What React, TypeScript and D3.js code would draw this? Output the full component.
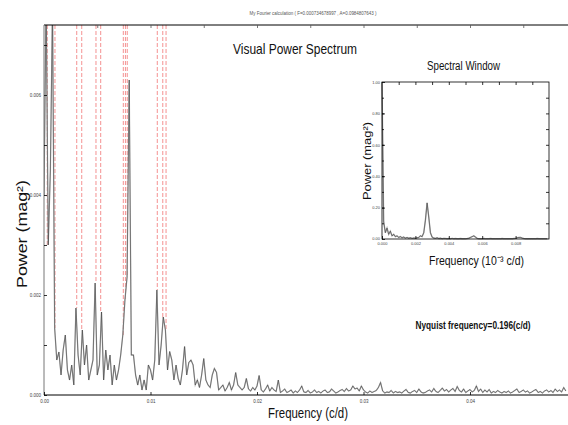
import React, { useRef, useEffect } from "react";
import * as d3 from "d3";

const W = 568;
const H = 425;

// main spectrum: one value every 0.0002 c/d starting at 0, power in 1e-4 mag^2
const stepMain = 0.0002;
const powerE4 = [
  40, 80, 30, 45, 78, 13.4, 7, 8.6, 4, 9,
  12, 5, 3, 6, 2, 17.4, 8, 4, 13, 6,
  10, 3, 5, 7, 22.4, 4, 6, 16.6, 3, 9,
  5, 8, 2, 6, 3, 5, 8, 12, 19, 23.6,
  63, 8, 8, 4, 2, 4, 1, 3, 1, 6,
  5, 3, 7, 21, 6, 10, 15.6, 13, 5, 8.7,
  7, 3, 6, 3.3, 2, 5, 9.7, 4, 6.5, 7,
  6, 2, 3, 1.5, 4, 7.3, 3, 2, 1.5, 4,
  5.3, 4.5, 1, 1.5, 2, 0.8, 1.5, 2.5, 1, 2,
  4.5, 2, 1.5, 1, 1.5, 3.3, 1.2, 0.8, 1.5, 1,
  1.8, 3.9, 1, 0.6, 1.2, 2, 0.8, 1.5, 1, 0.7,
  3, 0.5, 0.8, 1.2, 0.5, 0.7, 1.0, 0.4, 0.8, 0.5,
  1.0, 1.8, 0.6, 0.5, 0.9, 0.4, 0.6, 1.0, 0.5, 0.7,
  0.4, 0.8, 1.0, 0.5, 0.6, 1.2, 0.8, 0.4, 0.6, 0.9,
  1.1, 0.7, 1.3, 0.8, 1.0, 1.8, 1.2, 1.4, 0.8, 1.8,
  1.0, 0.6, 0.4, 0.8, 0.5, 0.7, 0.9, 1.5, 2.5, 0.8,
  0.4, 0.6, 0.5, 0.9, 0.4, 0.7, 0.5, 0.6, 0.4, 0.8,
  1.1, 0.5, 0.4, 0.7, 0.9, 0.5, 1.2, 0.6, 0.4, 0.5,
  0.8, 1.0, 0.6, 1.3, 0.7, 0.5, 0.9, 1.4, 0.8, 1.1,
  0.6, 1.0, 1.3, 0.7, 1.7, 0.9, 0.6, 1.2, 0.5, 0.8,
  1.1, 0.6, 0.9, 1.8, 0.7, 1.2, 0.5, 1.0, 0.6, 1.1,
  0.4, 0.7, 0.5, 0.9, 0.6, 0.4, 0.7, 0.5, 0.8, 0.4,
  0.6, 0.9, 1.2, 0.5, 0.7, 1.0, 0.6, 0.8, 0.4, 0.6,
  0.9, 1.1, 0.5, 0.7, 0.4, 0.8, 1.0, 0.6, 0.9, 0.5,
  1.2, 0.7, 1.0, 0.6, 1.5, 0.8,
];

// frequencies of the red dashed marker lines (c/d)
const markerFreqs = [
  0.00031, 0.00103, 0.00307, 0.00354, 0.00488, 0.00532,
  0.00745, 0.00765, 0.00782, 0.01064, 0.01115, 0.01146,
];

const xTicksMain = [0, 0.01, 0.02, 0.03, 0.04];
const yTicksMain = [0, 0.002, 0.004, 0.006];

// spectral window: one value every 0.0001, normalised power
const stepWin = 0.0001;
const windowPower = [
  1.0, 0.11, 0.04, 0.07, 0.03, 0.05, 0.02, 0.03, 0.015, 0.02,
  0.01, 0.015, 0.008, 0.012, 0.006, 0.01, 0.005, 0.008, 0.004, 0.006,
  0.005, 0.008, 0.01, 0.02, 0.015, 0.04, 0.12, 0.23, 0.14, 0.04,
  0.012, 0.006, 0.004, 0.008, 0.003, 0.005, 0.002, 0.004, 0.003, 0.002,
  0.003, 0.002, 0.004, 0.002, 0.003, 0.002, 0.002, 0.003, 0.002, 0.002,
  0.002, 0.003, 0.005, 0.01, 0.015, 0.02, 0.012, 0.004, 0.002, 0.002,
  0.002, 0.003, 0.002, 0.002, 0.002, 0.003, 0.002, 0.002, 0.002, 0.002,
  0.002, 0.002, 0.003, 0.002, 0.002, 0.002, 0.002, 0.002, 0.002, 0.003,
  0.004, 0.008, 0.01, 0.01, 0.006, 0.003, 0.002, 0.002, 0.002, 0.002,
  0.002, 0.002, 0.002, 0.003, 0.002, 0.002, 0.002, 0.002, 0.002, 0.002,
];
const xTicksWin = [0, 0.002, 0.004, 0.006, 0.008];
const yTicksWin = [0, 0.2, 0.4, 0.6, 0.8, 1.0];

const narrow = "'Liberation Sans Narrow', 'Arial Narrow', 'Liberation Sans', Arial, sans-serif";
const sans = "'Liberation Sans', Arial, sans-serif";

const App = () => {
  const ref = useRef<SVGSVGElement>(null);

  useEffect(() => {
    const svg = d3.select(ref.current);
    svg.selectAll("*").remove();

    // main plot
    const m = { left: 44, top: 25, bottom: 395 };
    const x = d3.scaleLinear().domain([0, 0.05]).range([m.left, 576.5]);
    const y = d3.scaleLinear().domain([0, 0.0074]).range([m.bottom, m.top]);

    svg.append("defs").append("clipPath").attr("id", "clipMain")
      .append("rect").attr("x", m.left).attr("y", m.top)
      .attr("width", W - m.left).attr("height", m.bottom - m.top);

    // marker lines, each runs from the top down to the spectrum
    const gm = svg.append("g").attr("clip-path", "url(#clipMain)");
    gm.selectAll("line.mk")
      .data(markerFreqs)
      .enter()
      .append("line")
      .attr("class", "mk")
      .attr("x1", (d) => x(d))
      .attr("x2", (d) => x(d))
      .attr("y1", m.top)
      .attr("y2", (d) => y(powerE4[Math.round(d / stepMain)] * 1e-4))
      .attr("stroke", "#ee5a5a")
      .attr("stroke-opacity", 0.6)
      .attr("stroke-width", 1.1)
      .attr("stroke-dasharray", "4,2");

    const line = d3
      .line<number>()
      .x((d, i) => x(i * stepMain))
      .y((d) => y(d * 1e-4));

    gm.append("path").datum(powerE4).attr("d", line)
      .attr("fill", "none").attr("stroke", "#b0b0b0").attr("stroke-width", 1.3);
    gm.append("path").datum(powerE4).attr("d", line)
      .attr("fill", "none").attr("stroke", "#222").attr("stroke-width", 0.5)
      .attr("stroke-opacity", 0.85);

    // frame
    svg.append("line").attr("x1", m.left).attr("x2", W).attr("y1", m.top).attr("y2", m.top)
      .attr("stroke", "#000").attr("stroke-width", 1);
    svg.append("line").attr("x1", m.left).attr("x2", W).attr("y1", m.bottom).attr("y2", m.bottom)
      .attr("stroke", "#000").attr("stroke-width", 1);
    svg.append("line").attr("x1", m.left).attr("x2", m.left).attr("y1", m.top).attr("y2", m.bottom)
      .attr("stroke", "#777").attr("stroke-width", 1);

    const tickStyle = (g: any, fs: number) => {
      g.select(".domain").remove();
      g.selectAll("line").attr("stroke", "#000").attr("stroke-width", 0.8);
      g.selectAll("text").attr("font-size", fs).attr("fill", "#444").attr("font-family", sans);
    };

    // y axis
    const gy = svg.append("g").attr("transform", `translate(${m.left},0)`)
      .call(d3.axisLeft(y).tickValues(yTicksMain).tickFormat(d3.format(".3f")).tickSizeInner(-3).tickSizeOuter(0).tickPadding(3));
    tickStyle(gy, 4.5);
    const gyMinor = svg.append("g").attr("transform", `translate(${m.left},0)`)
      .call(d3.axisLeft(y).tickValues(d3.range(0.001, 0.0074, 0.002)).tickFormat(() => "").tickSizeInner(-3).tickSizeOuter(0));
    tickStyle(gyMinor, 4.5);

    // x axis
    const gx = svg.append("g").attr("transform", `translate(0,${m.bottom})`)
      .call(d3.axisBottom(x).tickValues(xTicksMain).tickFormat(d3.format(".2f")).tickSizeInner(-3).tickSizeOuter(0).tickPadding(5));
    tickStyle(gx, 4.5);
    const gxTop = svg.append("g").attr("transform", `translate(0,${m.top})`)
      .call(d3.axisTop(x).tickValues(d3.range(0.005, 0.05, 0.005)).tickFormat(() => "").tickSizeInner(-3).tickSizeOuter(0));
    tickStyle(gxTop, 4.5);
    gxTop.selectAll("line").attr("stroke", "#555");

    // texts
    svg.append("text").attr("x", 313).attr("y", 15).attr("text-anchor", "middle")
      .attr("font-size", 5).attr("font-family", sans).attr("fill", "#555")
      .attr("textLength", 127).attr("lengthAdjust", "spacingAndGlyphs")
      .text("My Fourier calculation ( F=0.000734678997 , A=0.0984807643 )");

    svg.append("text").attr("x", 295).attr("y", 54).attr("text-anchor", "middle")
      .attr("font-size", 14.5).attr("font-family", narrow).attr("fill", "#111")
      .attr("textLength", 124).attr("lengthAdjust", "spacingAndGlyphs")
      .text("Visual Power Spectrum");

    svg.append("text").attr("x", 308).attr("y", 418).attr("text-anchor", "middle")
      .attr("font-size", 15).attr("font-family", narrow).attr("fill", "#111")
      .attr("textLength", 80).attr("lengthAdjust", "spacingAndGlyphs")
      .text("Frequency (c/d)");

    svg.append("text").attr("transform", "translate(27,234) rotate(-90)")
      .attr("text-anchor", "middle").attr("font-size", 14).attr("font-family", sans)
      .attr("fill", "#111").attr("textLength", 108).attr("lengthAdjust", "spacingAndGlyphs")
      .text("Power (mag²)");

    svg.append("text").attr("x", 473).attr("y", 329).attr("text-anchor", "middle")
      .attr("font-size", 11).attr("font-weight", "bold").attr("font-family", narrow).attr("fill", "#111")
      .attr("textLength", 115).attr("lengthAdjust", "spacingAndGlyphs")
      .text("Nyquist frequency=0.196(c/d)");

    // inset: spectral window
    const ins = { left: 382, right: 549, top: 82, bottom: 239 };
    const xw = d3.scaleLinear().domain([0, 0.01]).range([ins.left, ins.right]);
    const yw = d3.scaleLinear().domain([0, 1]).range([ins.bottom, ins.top]);

    const wline = d3
      .line<number>()
      .x((d, i) => xw(i * stepWin))
      .y((d) => yw(d));
    svg.append("path").datum(windowPower).attr("d", wline)
      .attr("fill", "none").attr("stroke", "#a8a8a8").attr("stroke-width", 1.4);
    svg.append("path").datum(windowPower).attr("d", wline)
      .attr("fill", "none").attr("stroke", "#222").attr("stroke-width", 0.5).attr("stroke-opacity", 0.85);

    svg.append("rect").attr("x", ins.left).attr("y", ins.top)
      .attr("width", ins.right - ins.left).attr("height", ins.bottom - ins.top)
      .attr("fill", "none").attr("stroke", "#000").attr("stroke-width", 0.8);

    const wyAll = d3.range(0.1, 1.0, 0.1);
    const wxAll = d3.range(0.001, 0.01, 0.001);
    const gwy = svg.append("g").attr("transform", `translate(${ins.left},0)`)
      .call(d3.axisLeft(yw).tickValues(yTicksWin).tickFormat(d3.format(".2f")).tickSizeInner(-3).tickSizeOuter(0).tickPadding(2));
    tickStyle(gwy, 4);
    gwy.selectAll(".tick").filter((d: any) => d === 0).select("text").attr("dy", "0");
    const gwyr = svg.append("g").attr("transform", `translate(${ins.right},0)`)
      .call(d3.axisRight(yw).tickValues(wyAll).tickFormat(() => "").tickSizeInner(-3).tickSizeOuter(0));
    tickStyle(gwyr, 4);
    const gwyl = svg.append("g").attr("transform", `translate(${ins.left},0)`)
      .call(d3.axisLeft(yw).tickValues(wyAll).tickFormat(() => "").tickSizeInner(-2).tickSizeOuter(0));
    tickStyle(gwyl, 4);
    const gwx = svg.append("g").attr("transform", `translate(0,${ins.bottom})`)
      .call(d3.axisBottom(xw).tickValues(xTicksWin).tickFormat(d3.format(".3f")).tickSizeInner(-3).tickSizeOuter(0).tickPadding(3));
    tickStyle(gwx, 4);
    const gwxt = svg.append("g").attr("transform", `translate(0,${ins.top})`)
      .call(d3.axisTop(xw).tickValues(wxAll).tickFormat(() => "").tickSizeInner(-3).tickSizeOuter(0));
    tickStyle(gwxt, 4);

    svg.append("text").attr("x", 463.5).attr("y", 70).attr("text-anchor", "middle")
      .attr("font-size", 12.5).attr("font-family", narrow).attr("fill", "#111")
      .attr("textLength", 73).attr("lengthAdjust", "spacingAndGlyphs")
      .text("Spectral Window");

    svg.append("text").attr("x", 476.5).attr("y", 265).attr("text-anchor", "middle")
      .attr("font-size", 13).attr("font-family", narrow).attr("fill", "#111")
      .attr("textLength", 95).attr("lengthAdjust", "spacingAndGlyphs")
      .text("Frequency (10⁻³ c/d)");

    svg.append("text").attr("transform", "translate(371,161) rotate(-90)")
      .attr("text-anchor", "middle").attr("font-size", 10.5).attr("font-family", sans)
      .attr("fill", "#111").attr("textLength", 78).attr("lengthAdjust", "spacingAndGlyphs")
      .text("Power (mag²)");
  }, []);

  return (
    <svg
      ref={ref}
      width={W}
      height={H}
      style={{ position: "absolute", left: 0, top: 0, background: "#fff" }}
    />
  );
};

export default App;
